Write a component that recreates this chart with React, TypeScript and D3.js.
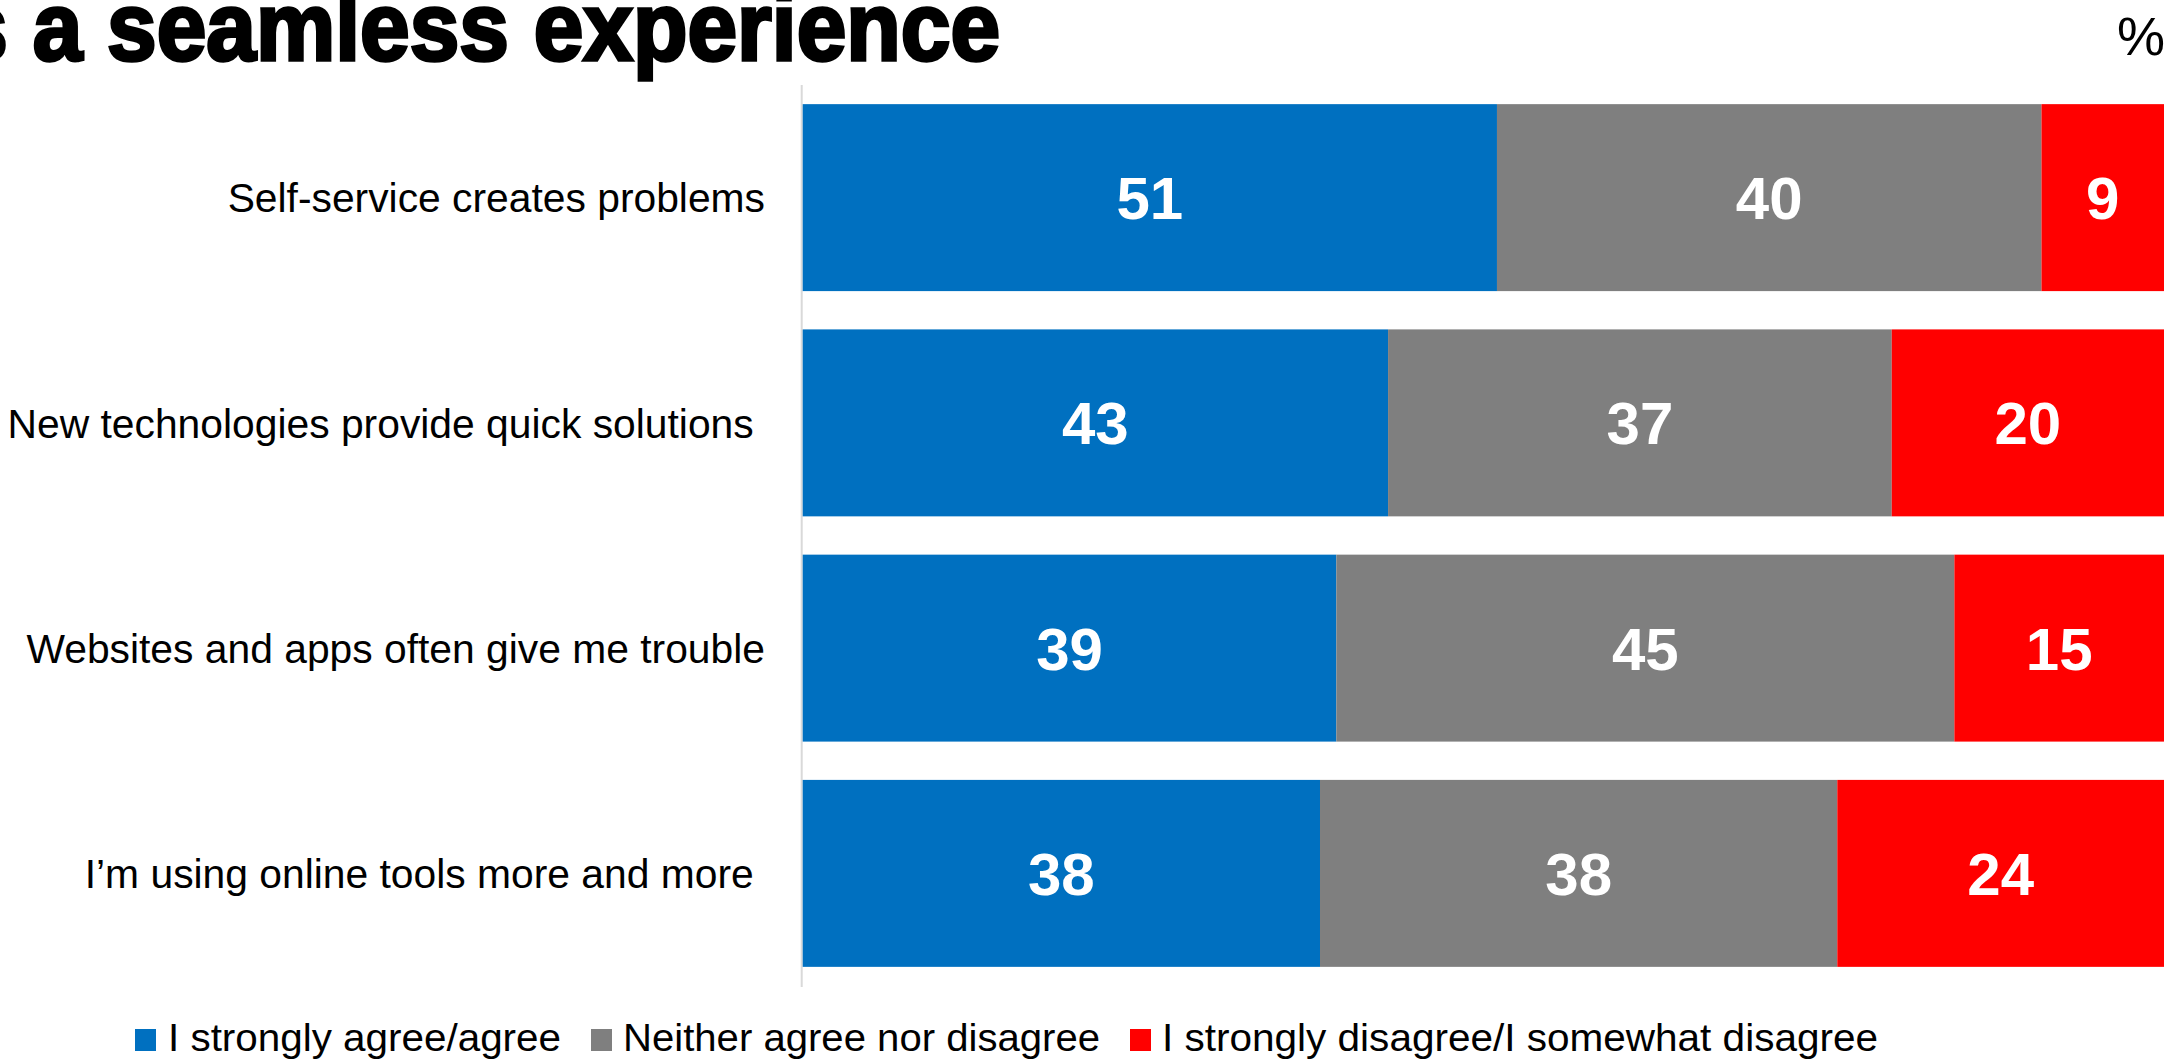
import React from "react";
import * as d3 from "d3";

const categories = [
  "Self-service creates problems",
  "New technologies provide quick solutions ",
  "Websites and apps often give me trouble",
  "I\u2019m using online tools more and more ",
];
const agree = [51, 43, 39.2, 38];
const neither = [40, 37, 45.4, 38];
const disagree = [9, 20, 15.4, 24];
const seriesNames = [
  "I strongly agree/agree",
  "Neither agree nor disagree",
  "I strongly disagree/I somewhat disagree",
];
const seriesColors = ["#0070C0", "#7F7F7F", "#FF0000"];
const titleText = "s a seamless experience";
const unitText = "%";

const W = 2184;
const H = 1061;

export default function App() {
  const x = d3.scaleLinear().domain([0, 100]).range([802.7, 2164]);
  const y = d3
    .scaleBand<string>()
    .domain(categories)
    .range([85, 986])
    .paddingInner(0.17)
    .paddingOuter(0.085);

  const rows = categories.map((c, i) => ({
    cat: c,
    agree: agree[i],
    neither: neither[i],
    disagree: disagree[i],
  }));
  const stack = d3.stack<any>().keys(["agree", "neither", "disagree"]);
  const stacked = stack(rows);

  const legendLayout = [
    { sx: 135, tx: 168, tw: 393 },
    { sx: 591, tx: 623, tw: 477 },
    { sx: 1130, tx: 1162, tw: 716 },
  ];

  return (
    <svg
      width={W}
      height={H}
      style={{ position: "absolute", left: 0, top: 0, background: "#fff" }}
    >
      <text
        x={1000}
        y={60}
        textAnchor="end"
        fontFamily="'Liberation Sans', Arial, sans-serif"
        fontWeight={700}
        fontSize={97}
        stroke="#000"
        strokeWidth={3.5}
        fill="#000"
        transform="translate(1000,0) scale(0.92,1) translate(-1000,0)"
      >
        {titleText}
      </text>
      <text
        x={2165}
        y={55}
        textAnchor="end"
        fontFamily="'Liberation Sans', Arial, sans-serif"
        fontSize={54}
        fill="#000"
      >
        {unitText}
      </text>

      <line x1={801.7} x2={801.7} y1={85} y2={987} stroke="#D9D9D9" strokeWidth={2} />

      {stacked.map((s, si) =>
        s.map((d, i) => {
          const cat = categories[i];
          const x0 = x(d[0]);
          const x1 = x(d[1]);
          const yy = y(cat)!;
          const bw = y.bandwidth();
          return (
            <g key={`${si}-${i}`}>
              <rect x={x0} y={yy} width={x1 - x0} height={bw} fill={seriesColors[si]} />
              <text
                x={(x0 + x1) / 2}
                y={yy + bw / 2}
                dy="0.36em"
                textAnchor="middle"
                fontFamily="'Liberation Sans', Arial, sans-serif"
                fontWeight={700}
                fontSize={60}
                fill="#fff"
              >
                {Math.round(d[1] - d[0])}
              </text>
            </g>
          );
        })
      )}

      {categories.map((c) => (
        <text
          key={c}
          x={765}
          y={y(c)! + y.bandwidth() / 2}
          dy="0.36em"
          textAnchor="end"
          xmlSpace="preserve"
          style={{ whiteSpace: "pre" }}
          fontFamily="'Liberation Sans', Arial, sans-serif"
          fontSize={40.8}
          fill="#000"
        >
          {c}
        </text>
      ))}

      {seriesNames.map((n, i) => (
        <g key={n}>
          <rect x={legendLayout[i].sx} y={1029} width={21} height={22} fill={seriesColors[i]} />
          <text
            x={legendLayout[i].tx}
            y={1051}
            fontFamily="'Liberation Sans Narrow', 'Liberation Sans', Arial, sans-serif"
            fontSize={38}
            textLength={legendLayout[i].tw}
            lengthAdjust="spacingAndGlyphs"
            fill="#000"
          >
            {n}
          </text>
        </g>
      ))}
    </svg>
  );
}
